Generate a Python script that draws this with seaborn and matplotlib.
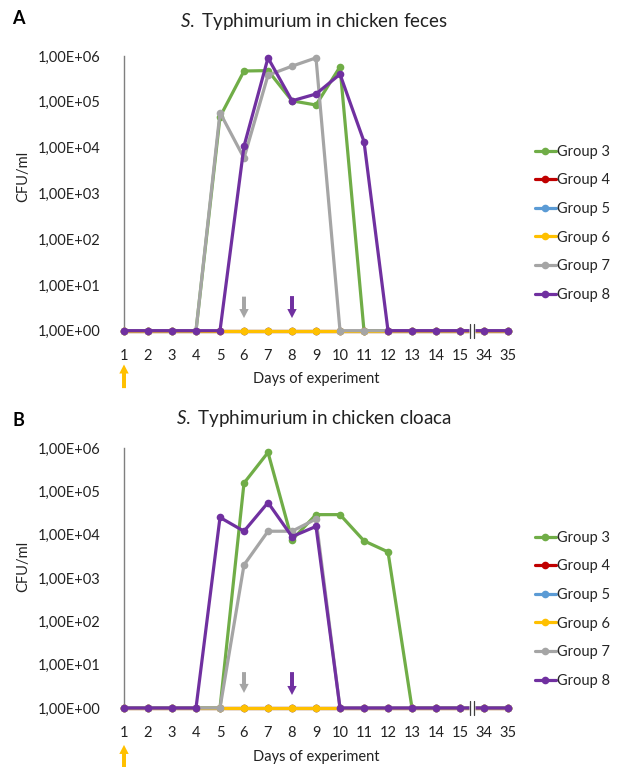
import numpy as np
import pandas as pd
import matplotlib
matplotlib.use("Agg")
import matplotlib.pyplot as plt
import seaborn as sns
from matplotlib.ticker import FixedLocator, FuncFormatter
from matplotlib.lines import Line2D

# ---------------- data ----------------
days = ["1", "2", "3", "4", "5", "6", "7", "8", "9", "10", "11", "12", "13", "14", "15", "34", "35"]
groups = ["Group 3", "Group 4", "Group 5", "Group 6", "Group 7", "Group 8"]

feces_g3 = [1, 1, 1, 1, 4.7e4, 4.7e5, 4.8e5, 1.05e5, 8.5e4, 5.8e5, 1, 1, 1, 1, 1, 1, 1]
feces_g4 = [1] * 17
feces_g5 = [1] * 17
feces_g6 = [1] * 17
feces_g7 = [1, 1, 1, 1, 5.8e4, 5.9e3, 3.8e5, 6.0e5, 9.1e5, 1, 1, 1, 1, 1, 1, 1, 1]
feces_g8 = [1, 1, 1, 1, 1, 1.07e4, 9.1e5, 1.05e5, 1.48e5, 4.0e5, 1.35e4, 1, 1, 1, 1, 1, 1]

cloaca_g3 = [1, 1, 1, 1, 1, 1.55e5, 7.9e5, 7.6e3, 2.9e4, 2.9e4, 7.2e3, 4.0e3, 1, 1, 1, 1, 1]
cloaca_g4 = [1] * 17
cloaca_g5 = [1] * 17
cloaca_g6 = [1] * 17
cloaca_g7 = [1, 1, 1, 1, 1, 2.0e3, 1.2e4, 1.2e4, 2.3e4, 1, 1, 1, 1, 1, 1, 1, 1]
cloaca_g8 = [1, 1, 1, 1, 2.5e4, 1.2e4, 5.5e4, 9.0e3, 1.55e4, 1, 1, 1, 1, 1, 1, 1, 1]

colors = ["#70AD47", "#C00000", "#5B9BD5", "#FFC000", "#A5A5A5", "#7030A0"]

# ---------------- style ----------------
sns.set_theme(style="white")
plt.rcParams["font.family"] = ["Lato", "DejaVu Sans"]
plt.rcParams["mathtext.fontset"] = "custom"
plt.rcParams["mathtext.it"] = "Lato:italic"
plt.rcParams["mathtext.rm"] = "Lato"

fig = plt.figure(figsize=(6.17, 7.67), dpi=100)
W, H = 617, 767

LW = 2.3
MS = 5.5


def ax_rect(left, right, top, bottom):
    return [left / W, 1 - bottom / H, (right - left) / W, (bottom - top) / H]


ax1 = fig.add_axes(ax_rect(124, 508, 56, 330.7))
ax2 = fig.add_axes(ax_rect(124, 508, 448, 708))


def build_df(series):
    rows = []
    for g, vals in zip(groups, series):
        for i, v in enumerate(vals):
            rows.append({"pos": i, "day": days[i], "value": v, "group": g})
    return pd.DataFrame(rows)


def fmt(v, _):
    e = int(round(np.log10(v)))
    return f"1,00E+{e:02d}"


ARROW = dict(arrowstyle="simple,head_width=0.52,head_length=0.5,tail_width=0.22", lw=0,
             mutation_scale=13, shrinkA=0, shrinkB=0)


def draw_panel(ax, series, grey_arrow, purple_arrow, yellow_arrow):
    df = build_df(series)
    sns.lineplot(data=df, x="pos", y="value", hue="group", hue_order=groups,
                 palette=colors, marker="o", markersize=MS, markeredgewidth=0,
                 linewidth=LW, ax=ax, legend=False, clip_on=False, zorder=3)
    ax.set_yscale("log")
    ax.set_ylim(1, 1e6)
    ax.set_xlim(0, len(days) - 1)
    ax.yaxis.set_major_locator(FixedLocator([10.0 ** k for k in range(7)]))
    ax.yaxis.set_minor_locator(FixedLocator([]))
    ax.yaxis.set_major_formatter(FuncFormatter(fmt))
    ax.set_xticks(range(len(days)))
    ax.set_xticklabels(days)
    ax.tick_params(axis="both", length=0, labelsize=10.5, colors="#222222")
    ax.tick_params(axis="y", pad=17)
    ax.tick_params(axis="x", pad=13)
    for s in ["top", "right", "bottom"]:
        ax.spines[s].set_visible(False)
    ax.spines["left"].set_color("#7f7f7f")
    ax.spines["left"].set_linewidth(1.0)
    ax.set_xlabel("Days of experiment", fontsize=10.5, color="#222222", labelpad=7)
    ax.set_ylabel("")
    ax.grid(False)

    # axis break between day 15 and day 34
    bx = 14.5
    ax.plot([bx - 0.14, bx + 0.14], [1, 1], color="white", lw=5, clip_on=False, zorder=5,
            solid_capstyle="butt")
    for dx in (-0.07, 0.07):
        ax.plot([bx + dx, bx + dx], [0.70, 1.42], color="#404040", lw=0.9, clip_on=False, zorder=6)

    # arrows
    tr = ("data", "axes fraction")
    for xpos, (tip, tail), col in ((5, grey_arrow, "#A5A5A5"), (7, purple_arrow, "#7030A0"),
                                   (0, yellow_arrow, "#FFC000")):
        ax.annotate("", xy=(xpos, tip), xytext=(xpos, tail), xycoords=tr, textcoords=tr,
                    arrowprops=dict(color=col, **ARROW), annotation_clip=False)


draw_panel(ax1, [feces_g3, feces_g4, feces_g5, feces_g6, feces_g7, feces_g8],
           (0.046, 0.124), (0.046, 0.126), (-0.123, -0.209))
draw_panel(ax2, [cloaca_g3, cloaca_g4, cloaca_g5, cloaca_g6, cloaca_g7, cloaca_g8],
           (0.058, 0.138), (0.050, 0.138), (-0.142, -0.227))

handles = [Line2D([0], [0], color=c, lw=LW, marker="o", markersize=MS, markeredgewidth=0)
           for c in colors]
leg_kw = dict(frameon=False, fontsize=10.5, handlelength=1.45, handletextpad=0.05,
              labelspacing=1.0, borderaxespad=0, loc="upper left")
fig.legend(handles, groups, bbox_to_anchor=(529 / W, 1 - 139 / H), **leg_kw)
fig.legend(handles, groups, bbox_to_anchor=(529 / W, 1 - 525 / H), **leg_kw)

# titles, panel letters, y labels
fig.text(314 / W, 1 - 22 / H, r"$\mathit{S.}$ Typhimurium in chicken feces", ha="center", va="center",
         fontsize=13.5, color="#222222")
fig.text(314 / W, 1 - 418 / H, r"$\mathit{S.}$ Typhimurium in chicken cloaca", ha="center", va="center",
         fontsize=13.5, color="#222222")
fig.text(12 / W, 1 - 18 / H, "A", fontsize=13, fontweight="bold", ha="left", va="center", color="black")
fig.text(12 / W, 1 - 420 / H, "B", fontsize=13, fontweight="bold", ha="left", va="center", color="black")
fig.text(23 / W, 1 - 176 / H, "CFU/ml", rotation=90, fontsize=10.5, ha="center", va="center", color="#222222")
fig.text(23 / W, 1 - 566 / H, "CFU/ml", rotation=90, fontsize=10.5, ha="center", va="center", color="#222222")

fig.savefig("out.png", dpi=100)
